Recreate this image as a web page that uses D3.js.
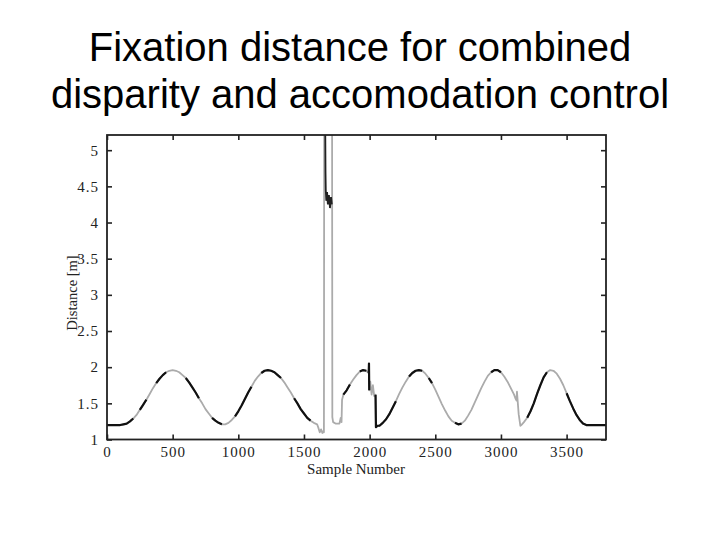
<!DOCTYPE html>
<html>
<head>
<meta charset="utf-8">
<script src="https://cdn.jsdelivr.net/npm/d3@7"></script>
<style>
  html, body { margin: 0; padding: 0; background: #fff; }
  svg { display: block; }
</style>
</head>
<body>
<svg id="chart" width="720" height="540"></svg>
<script>
// ---------------- DATA ----------------
const titleLines = ["Fixation distance for combined", "disparity and accomodation control"];
const xLabel = "Sample Number";
const yLabel = "Distance [m]";
const xTicks = [0, 500, 1000, 1500, 2000, 2500, 3000, 3500];
const yTicks = [1, 1.5, 2, 2.5, 3, 3.5, 4, 4.5, 5];

// main fixation-distance trace (sample number, distance in m)
const samples = [
  0, 25, 50, 75, 100, 125, 150, 175, 200, 225, 250, 275, 300, 325, 350, 375, 400, 425, 450, 475,
  500, 525, 550, 575, 600, 625, 650, 675, 700, 725, 750, 775, 800, 825, 850, 875, 900, 925, 950, 975,
  1000, 1025, 1050, 1075, 1100, 1125, 1150, 1175, 1200, 1225, 1250, 1275, 1300, 1325, 1350, 1375,
  1400, 1425, 1450, 1475, 1500, 1525, 1550, 1575, 1600, 1610, 1620, 1630, 1640, 1650,
  1652, 1654, 1714, 1716, 1722, 1740, 1770, 1780, 1786, 1790, 1800, 1825, 1850, 1875, 1900, 1925,
  1950, 1975, 1990, 1993, 1995, 1997, 2005, 2015, 2025, 2035, 2045, 2048, 2060, 2075, 2100, 2125,
  2150, 2175, 2200, 2225, 2250, 2275, 2300, 2325, 2350, 2375, 2400, 2425, 2450, 2475, 2500, 2525,
  2550, 2575, 2600, 2625, 2650, 2675, 2700, 2725, 2750, 2775, 2800, 2825, 2850, 2875, 2900, 2925,
  2950, 2975, 3000, 3025, 3050, 3075, 3100, 3110, 3118, 3122, 3135, 3148, 3155, 3175, 3200, 3225,
  3250, 3275, 3300, 3325, 3350, 3375, 3400, 3425, 3450, 3475, 3500, 3525, 3550, 3575, 3600, 3625,
  3650, 3675, 3700, 3725, 3750, 3775, 3800
];
const distance = [
  1.20, 1.20, 1.20, 1.20, 1.20, 1.21, 1.22, 1.25, 1.29, 1.34, 1.41, 1.48, 1.55, 1.63, 1.71, 1.78, 1.84, 1.89, 1.93, 1.95,
  1.96, 1.95, 1.93, 1.89, 1.85, 1.79, 1.72, 1.65, 1.57, 1.50, 1.42, 1.36, 1.30, 1.26, 1.23, 1.21, 1.21, 1.23, 1.27, 1.32,
  1.39, 1.47, 1.56, 1.65, 1.73, 1.81, 1.87, 1.92, 1.95, 1.96, 1.95, 1.93, 1.89, 1.85, 1.79, 1.72,
  1.65, 1.57, 1.50, 1.42, 1.36, 1.30, 1.26, 1.23, 1.21, 1.16, 1.10, 1.14, 1.09, 1.12,
  1.10, 5.50, 5.50, 1.31, 1.24, 1.22, 1.22, 1.30, 1.24, 1.55, 1.62, 1.68, 1.76, 1.83, 1.89, 1.94,
  1.96, 1.95, 1.92, 1.92, 2.05, 1.68, 1.80, 1.62, 1.75, 1.60, 1.62, 1.17, 1.19, 1.19, 1.23, 1.28,
  1.35, 1.44, 1.53, 1.63, 1.72, 1.80, 1.87, 1.92, 1.95, 1.96, 1.95, 1.91, 1.85, 1.78, 1.69, 1.59,
  1.49, 1.40, 1.32, 1.26, 1.23, 1.21, 1.22, 1.26, 1.33, 1.41, 1.51, 1.61, 1.71, 1.80, 1.88, 1.93,
  1.96, 1.96, 1.93, 1.87, 1.80, 1.71, 1.62, 1.57, 1.54, 1.66, 1.35, 1.19, 1.20, 1.24, 1.30, 1.39,
  1.50, 1.63, 1.75, 1.86, 1.93, 1.96, 1.95, 1.91, 1.84, 1.75, 1.64, 1.53, 1.43, 1.34, 1.27, 1.22,
  1.20, 1.20, 1.20, 1.20, 1.20, 1.20, 1.20
];

// sample ranges where the trace is drawn black (accommodation-driven output)
const blackSpans = [
  [0, 202], [237, 315], [352, 457], [580, 723], [800, 885], [960, 1112], [1165, 1340],
  [1405, 1565], [1795, 1870], [1925, 1985], [1990, 2000], [2040, 2205], [2290, 2405],
  [2440, 2495], [2645, 2700], [2910, 3000], [3190, 3350], [3495, 3800]
];

// black trace during the far-distance glitch
const spikeSamples = [1662, 1663, 1664, 1666, 1670, 1676, 1682, 1690, 1698, 1706, 1712];
const spikeDistance = [5.30, 5.00, 4.70, 4.45, 4.30, 4.42, 4.25, 4.38, 4.20, 4.35, 4.25];

// ---------------- CHART ----------------
const svg = d3.select("#chart");
const W = 720, H = 540;
const plot = { left: 107, right: 606, top: 135, bottom: 439.5 };

const x = d3.scaleLinear().domain([0, 3800]).range([plot.left, plot.right]);
const y = d3.scaleLinear().domain([1, 5.21]).range([plot.bottom, plot.top]);

// title
svg.append("g").selectAll("text").data(titleLines).join("text")
  .attr("x", W / 2)
  .attr("y", (d, i) => 61 + i * 46.5)
  .attr("text-anchor", "middle")
  .attr("font-family", "Liberation Sans, Arial, sans-serif")
  .attr("font-size", 40)
  .attr("fill", "#000")
  .text(d => d);

// clip
svg.append("defs").append("clipPath").attr("id", "clip")
  .append("rect")
  .attr("x", plot.left).attr("y", plot.top)
  .attr("width", plot.right - plot.left).attr("height", plot.bottom - plot.top);

const pts = samples.map((s, i) => [s, distance[i]]);

const traceLine = d3.line().x(d => x(d[0])).y(d => y(d[1])).curve(d3.curveLinear);

const g = svg.append("g").attr("clip-path", "url(#clip)");

g.append("path")
  .datum(pts)
  .attr("d", traceLine)
  .attr("fill", "none")
  .attr("stroke", "#ababab")
  .attr("stroke-width", 1.8)
  .attr("stroke-linejoin", "round");

blackSpans.forEach(([a, b]) => {
  const seg = pts.filter(p => p[0] >= a && p[0] <= b);
  if (seg.length < 2) return;
  g.append("path")
    .datum(seg)
    .attr("d", traceLine)
    .attr("fill", "none")
    .attr("stroke", "#111")
    .attr("stroke-width", 2.2)
    .attr("stroke-linejoin", "round");
});

g.append("path")
  .datum(spikeSamples.map((s, i) => [s, spikeDistance[i]]))
  .attr("d", traceLine)
  .attr("fill", "none")
  .attr("stroke", "#222")
  .attr("stroke-width", 1.8);

// axes (ticks pointing inward on all four sides)
const tickLen = 5;
const serif = "Liberation Serif, Times New Roman, serif";

const axB = svg.append("g").attr("transform", `translate(0,${plot.bottom})`)
  .call(d3.axisBottom(x).tickValues(xTicks).tickSize(-tickLen).tickPadding(7).tickFormat(d3.format("d")));
const axT = svg.append("g").attr("transform", `translate(0,${plot.top})`)
  .call(d3.axisTop(x).tickValues(xTicks).tickSize(-tickLen).tickFormat(""));
const axL = svg.append("g").attr("transform", `translate(${plot.left},0)`)
  .call(d3.axisLeft(y).tickValues(yTicks).tickSize(-tickLen).tickPadding(8).tickFormat(d3.format("~g")));
const axR = svg.append("g").attr("transform", `translate(${plot.right},0)`)
  .call(d3.axisRight(y).tickValues(yTicks).tickSize(-tickLen).tickFormat(""));

[axB, axT, axL, axR].forEach(ax => {
  ax.select(".domain").remove();
  ax.selectAll(".tick line").attr("stroke", "#222").attr("stroke-width", 1.6);
  ax.selectAll(".tick text").attr("font-family", serif).attr("font-size", 15)
    .attr("letter-spacing", 1).attr("fill", "#222");
});

// frame
svg.append("rect")
  .attr("x", plot.left).attr("y", plot.top)
  .attr("width", plot.right - plot.left).attr("height", plot.bottom - plot.top)
  .attr("fill", "none").attr("stroke", "#222").attr("stroke-width", 1.8);

// axis labels
svg.append("text")
  .attr("x", 356).attr("y", 474)
  .attr("text-anchor", "middle")
  .attr("font-family", serif).attr("font-size", 15).attr("fill", "#222")
  .text(xLabel);

svg.append("text")
  .attr("transform", `translate(77,293) rotate(-90)`)
  .attr("text-anchor", "middle")
  .attr("font-family", serif).attr("font-size", 14.5).attr("fill", "#222")
  .text(yLabel);
</script>
</body>
</html>
